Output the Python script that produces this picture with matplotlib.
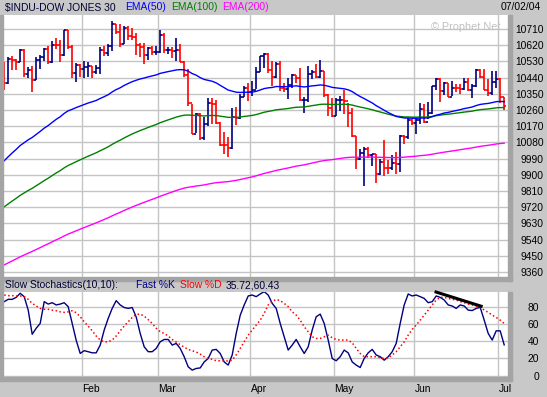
import matplotlib
matplotlib.use('Agg')
import matplotlib.pyplot as plt
import numpy as np
from matplotlib.patches import Rectangle
import matplotlib.transforms as mtransforms

plt.rcParams['font.family'] = ['Liberation Sans', 'DejaVu Sans']

# ---------------- data (daily bars, 2004-01-02 .. 2004-07-02) ----------------
closes = [
    10410, 10544, 10539, 10529, 10592, 10459, 10485, 10427, 10538, 10554,
    10601, 10529, 10624, 10623, 10568, 10703, 10610, 10468, 10510, 10488,
    10499, 10505, 10471, 10496, 10593, 10579, 10614, 10738, 10694, 10628,
    10715, 10672, 10665, 10619, 10610, 10566, 10602, 10580, 10584, 10678,
    10591, 10593, 10588, 10596, 10529, 10457, 10297, 10128, 10240, 10103,
    10185, 10300, 10296, 10187, 10065, 10064, 10048, 10219, 10213, 10330,
    10382, 10358, 10373, 10471, 10558, 10571, 10480, 10442, 10516, 10381,
    10378, 10397, 10452, 10438, 10315, 10317, 10461, 10473, 10445, 10478,
    10343, 10272, 10226, 10314, 10317, 10311, 10241, 10117, 9990, 10019,
    10045, 10011, 10013, 9907, 9969, 9937.7, 9937.6, 9967, 9958, 10118,
    10110, 10205, 10188, 10203, 10263, 10196, 10243, 10391, 10433, 10368,
    10410, 10335, 10380.4, 10379.6, 10378, 10416, 10371, 10395, 10480, 10444,
    10372, 10357, 10413, 10435, 10334, 10283]
opens = [
    10453, 10410, 10544, 10539, 10529, 10592, 10459, 10485, 10427, 10538,
    10554, 10601, 10529, 10624, 10623, 10568, 10703, 10610, 10468, 10510,
    10488, 10499, 10505, 10471, 10496, 10593, 10579, 10614, 10738, 10694,
    10628, 10715, 10672, 10665, 10619, 10610, 10566, 10602, 10580, 10584,
    10678, 10591, 10593, 10588, 10596, 10529, 10457, 10297, 10128, 10240,
    10103, 10185, 10300, 10296, 10187, 10065, 10064, 10048, 10219, 10213,
    10330, 10382, 10358, 10373, 10471, 10558, 10571, 10480, 10442, 10516,
    10381, 10378, 10397, 10452, 10438, 10315, 10317, 10461, 10473, 10445,
    10478, 10343, 10272, 10226, 10314, 10317, 10311, 10241, 10117, 9990,
    10019, 10045, 10011, 10013, 9907, 9969, 9937.7, 9937.6, 9967, 9958,
    10118, 10110, 10205, 10188, 10203, 10263, 10196, 10243, 10391, 10433,
    10368, 10410, 10335, 10380.4, 10379.6, 10378, 10416, 10371, 10395, 10480,
    10444, 10372, 10357, 10413, 10435, 10334]
highs = [
    10528, 10552, 10560, 10545, 10600, 10598, 10497, 10505, 10553, 10565,
    10606, 10618, 10645, 10660, 10650, 10706, 10706, 10620, 10520, 10518,
    10534, 10525, 10505, 10510, 10608, 10617, 10627, 10752, 10738, 10738,
    10725, 10725, 10715, 10686, 10631, 10631, 10608, 10613, 10613, 10704,
    10686, 10608, 10608, 10658, 10627, 10534, 10488, 10293, 10245, 10245,
    10219, 10327, 10327, 10315, 10191, 10136, 10108, 10269, 10275, 10349,
    10395, 10408, 10423, 10501, 10562, 10575, 10575, 10534, 10525, 10530,
    10410, 10438, 10460, 10455, 10491, 10330, 10503, 10482, 10515, 10540,
    10478, 10350, 10325, 10325, 10339, 10371, 10297, 10270, 10117, 10043,
    10052, 10052, 10015, 10015, 9990, 10093, 9980, 10010, 10025, 10121,
    10121, 10214, 10210, 10210, 10297, 10293, 10305, 10395, 10436, 10436,
    10416, 10412, 10420, 10405, 10405, 10436, 10436, 10402, 10488, 10490,
    10490, 10430, 10475, 10478, 10440, 10335]
lows = [
    10372, 10405, 10480, 10485, 10525, 10445, 10440, 10362, 10425, 10488,
    10534, 10518, 10520, 10600, 10525, 10560, 10600, 10436, 10418, 10445,
    10436, 10441, 10438, 10460, 10460, 10562, 10560, 10590, 10682, 10610,
    10627, 10650, 10650, 10565, 10555, 10518, 10540, 10565, 10565, 10575,
    10575, 10571, 10547, 10534, 10525, 10441, 10284, 10127, 10130, 10093,
    10093, 10173, 10182, 10182, 10062, 10016, 10001, 10043, 10178, 10210,
    10330, 10312, 10340, 10377, 10469, 10495, 10465, 10395, 10440, 10365,
    10360, 10321, 10380, 10410, 10310, 10245, 10302, 10430, 10440, 10440,
    10330, 10229, 10219, 10225, 10255, 10238, 10168, 10112, 9932, 9980,
    9840, 9993, 9950, 9852, 9900, 9895, 9905, 9925, 9905, 9914,
    10071, 10100, 10175, 10128, 10180, 10190, 10210, 10240, 10370, 10302,
    10345, 10330, 10340, 10360, 10350, 10370, 10365, 10325, 10390, 10436,
    10370, 10340, 10345, 10380, 10300, 10258]

# EMA values at the first bar (state carried from earlier history)
ema_seeds = {50: 9978, 100: 9722, 200: 9399}

# Slow stochastics (10,10)
fast_k = [
    85.8, 88.5, 88.5, 90.8, 95.5, 91.6, 76, 48, 55, 60.6,
    85.8, 83, 84.6, 82, 83, 84.6, 80, 60.6, 41, 25.8,
    29, 27.8, 26.5, 26.5, 35.5, 52.9, 66.4, 78, 87, 82,
    79, 78, 79, 68, 49, 33.5, 27.8, 27.8, 31.6, 39.3,
    42, 42, 35.5, 37.4, 31.6, 22, 10.3, 6.5, 8.4, 9,
    16, 20, 29.7, 30.5, 25.8, 16, 12.3, 24, 49, 70,
    82, 92.4, 93.5, 91.6, 94.7, 97.4, 93.5, 83.8, 78, 60.6,
    45.1, 29.7, 35.5, 42, 33.5, 25.8, 33.5, 52.9, 68.3, 71.4,
    60.6, 41.3, 20, 17.3, 22, 29.7, 26.5, 16, 12.3, 9.5,
    20, 26.5, 30.5, 24, 22, 18, 22, 27.8, 37.4, 60.6,
    82, 94.7, 92.4, 93.5, 91.6, 89.6, 84.6, 85.8, 92.4, 90.8,
    87.7, 82, 80.8, 78, 82, 80.8, 76, 75.5, 78, 79.2,
    64.4, 49, 41.3, 52, 52, 35.72]
slow_d = [
    93.5, 92.8, 92.8, 92.4, 92.4, 91.6, 88.5, 83.8, 80.8, 78,
    77, 77, 76, 75.3, 74, 73.4, 74, 75.3, 73, 68.3,
    62.5, 57.5, 52, 46, 41.3, 39.3, 39.3, 41.3, 46, 52,
    57.5, 62.5, 67.5, 71, 71.4, 69, 65, 60.6, 55, 51,
    49, 46, 42, 39, 36, 33, 30.5, 28.9, 27.5, 25,
    22, 20, 19, 17.3, 17.3, 17.3, 17, 18, 24, 31.6,
    39.3, 47, 52.9, 58.7, 64.4, 72.2, 82, 85.8, 88.5, 87,
    83.8, 80, 74, 70.2, 64.4, 56.8, 51, 45.1, 43.2, 43.2,
    45.1, 47, 44, 42, 41.3, 41.3, 41.3, 38.2, 31.6, 25.8,
    22, 22, 22, 22, 20.7, 20, 20.7, 24, 27.8, 33.5,
    39.3, 47, 53.7, 58.7, 64.4, 70.2, 76, 82, 87.7, 90.8,
    90.8, 89.6, 88.5, 87.7, 85.8, 84.6, 83, 82, 80.8, 79.2,
    76, 73.4, 70.2, 67.5, 64.4, 60.43]

# divergence trend line drawn on the stochastics panel (bar index, value)
trend_x = [107.6, 119.6]
trend_y = [97.5, 80.0]

month_labels = ['Feb', 'Mar', 'Apr', 'May', 'Jun', 'Jul']
month_first_bar = [20, 39, 62, 83, 103, 124]
price_ticks = list(range(9360, 10711, 90))
stoch_ticks = [0, 20, 40, 60, 80]

# ---------------- figure ----------------
W, H = 547, 397
BG = '#c8c8c8'
fig = plt.figure(figsize=(W / 100, H / 100), dpi=100, facecolor=BG)


def fr(x0, y0, x1, y1):
    return [x0 / W, 1 - y1 / H, (x1 - x0) / W, (y1 - y0) / H]


# shadows
for (x0, y0, x1, y1) in [(508, 15, 512, 281), (3, 277, 512, 281),
                         (508, 292, 512, 381), (3, 377, 512, 381), (0, 15, 3, 381)]:
    fig.patches.append(Rectangle((x0 / W, 1 - y1 / H), (x1 - x0) / W, (y1 - y0) / H,
                                 transform=fig.transFigure, color='#a4a4a4', zorder=0))

ax = fig.add_axes(fr(3, 15, 508, 277))
ax2 = fig.add_axes(fr(3, 292, 508, 377), sharex=ax)

n = len(closes)
x = np.arange(n)
o = np.array(opens, float)
c = np.array(closes, float)
hi = np.array(highs, float)
lo = np.array(lows, float)
cols = np.where(c < o, '#ff0000', '#000080')

GRID = '#c4c4c4'
for a in (ax, ax2):
    a.set_facecolor('white')
    for s in a.spines.values():
        s.set_visible(False)
    a.set_axisbelow(True)
    a.set_xticks(np.array(month_first_bar) - 0.5)
    a.tick_params(axis='x', length=0, labelbottom=False)
    a.grid(True, color=GRID, lw=1.0)

ax.vlines(x, lo, hi, colors=cols, lw=1.2, zorder=3)
ax.hlines(o, x - 0.55, x, colors=cols, lw=1.2, zorder=3)
ax.hlines(c, x, x + 0.55, colors=cols, lw=1.2, zorder=3)


def ema(vals, period, seed):
    a = 2.0 / (period + 1)
    out = [seed]
    for v in vals[1:]:
        out.append(out[-1] + a * (v - out[-1]))
    return np.array(out)


ema_colors = {50: '#0000ff', 100: '#008000', 200: '#ff00ff'}
for p in (200, 100, 50):
    ax.plot(x, ema(c, p, ema_seeds[p]), color=ema_colors[p], lw=1.0, zorder=4)

ax.set_xlim(-0.3, 125.95)
ax.set_ylim(9332, 10788)
ax.yaxis.tick_right()
ax.set_yticks(price_ticks)
ax.set_yticklabels([str(t) for t in price_ticks])
ax.tick_params(axis='y', length=0, pad=25.5, labelsize=7.4)
for lb in ax.get_yticklabels():
    lb.set_ha('right')

ax.text(0.985, 0.955, '\u00a9 Prophet.Net', transform=ax.transAxes, ha='right', va='center',
        fontsize=7.8, color='#c0c0c0')

# stochastics
ax2.plot(x, fast_k, color='#000080', lw=1.0, zorder=3)
ax2.plot(x, slow_d, color='#ff0000', lw=1.1, ls=(0, (1, 1.6)), zorder=3)
ax2.plot(trend_x, trend_y, color='black', lw=2.2, solid_capstyle='butt', zorder=5, clip_on=False)
ax2.set_ylim(-1.5, 97)
ax2.yaxis.tick_right()
ax2.set_yticks(stoch_ticks)
ax2.set_yticklabels([str(t) for t in stoch_ticks])
ax2.tick_params(axis='y', length=0, pad=22.5, labelsize=7.4)
for lb in ax2.get_yticklabels():
    lb.set_ha('right')

trans = mtransforms.blended_transform_factory(ax2.transData, ax2.transAxes)
for lab, b in zip(month_labels, month_first_bar):
    ax2.text(b - 0.4, -0.14, lab, transform=trans, ha='left', va='center', fontsize=7.4)

# header texts
fs = 7.4
yh = 1 - 7.5 / H
fig.text(5 / W, yh, '\\$INDU-DOW JONES 30', fontsize=fs, va='center', color='#000033')
fig.text(125 / W, yh, 'EMA(50)', fontsize=fs, va='center', color='#0000ff')
fig.text(171 / W, yh, 'EMA(100)', fontsize=fs, va='center', color='#008000')
fig.text(222 / W, yh, 'EMA(200)', fontsize=fs, va='center', color='#ff00ff')
fig.text(541 / W, yh, '07/02/04', fontsize=fs, va='center', ha='right', color='black')

ys = 1 - 285 / H
fig.text(5 / W, ys, 'Slow Stochastics(10,10):', fontsize=fs, va='center', color='#000033')
fig.text(136 / W, ys, 'Fast %K', fontsize=fs, va='center', color='#000080')
fig.text(180 / W, ys, 'Slow %D', fontsize=fs, va='center', color='#ff0000')
fig.text(226 / W, ys, '35.72,60.43', fontsize=fs, va='center', color='#000033')

fig.savefig('out.png', dpi=100, facecolor=BG)
